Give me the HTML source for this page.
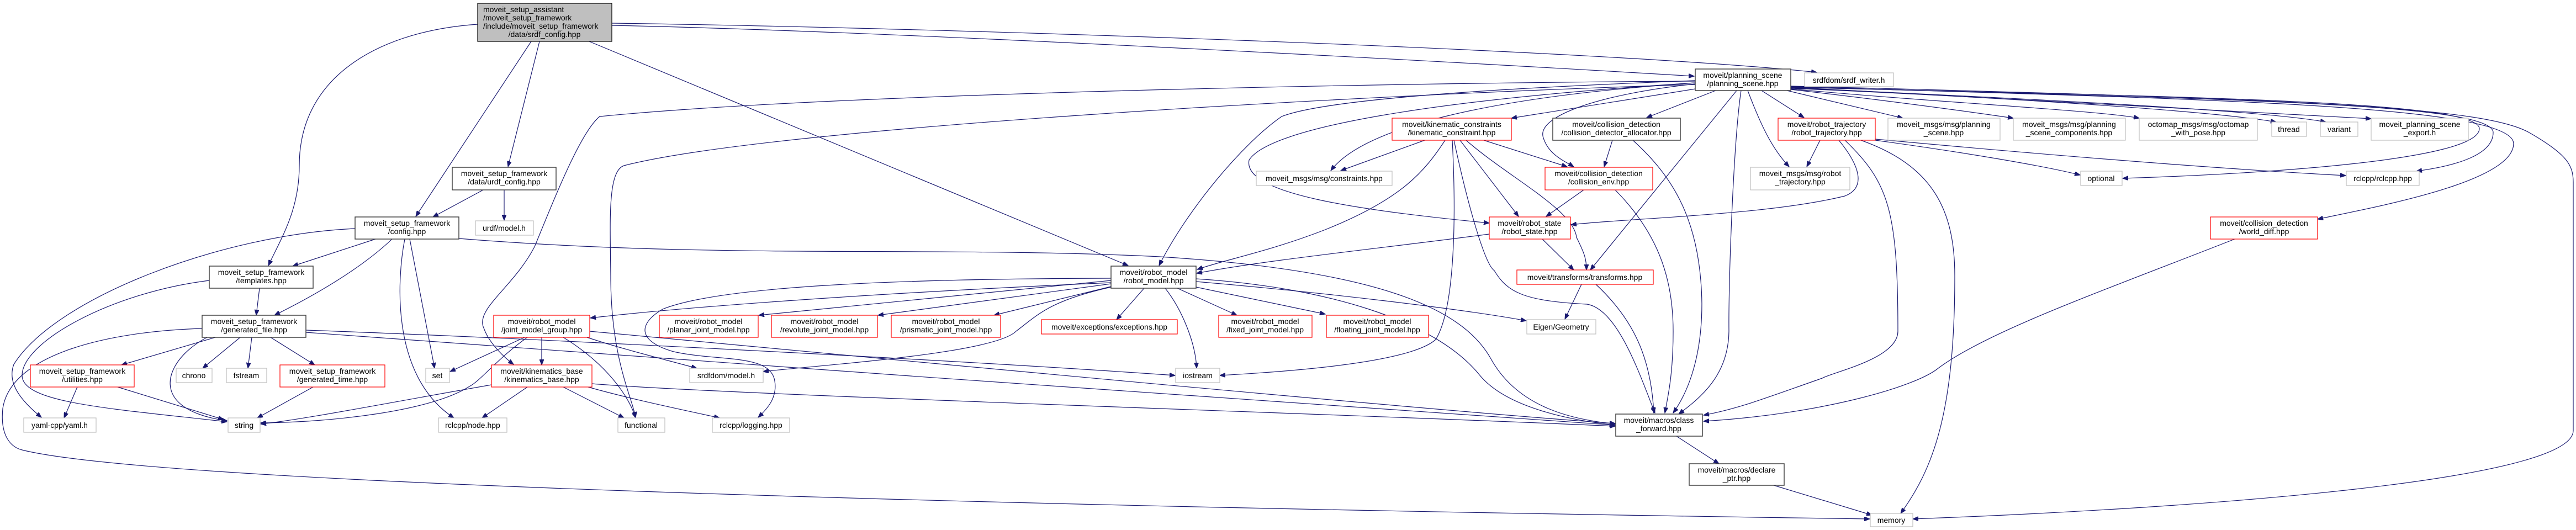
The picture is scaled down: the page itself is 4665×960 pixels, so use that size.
<!DOCTYPE html>
<html><head><meta charset="utf-8">
<style>
html,body{margin:0;padding:0;background:#fff;}
svg{display:block;}
text{font-family:"Liberation Sans",sans-serif;font-size:14px;fill:#000;}
.e{fill:none;stroke:#191970;stroke-width:1.2;marker-end:url(#a);}
.b{fill:#fff;stroke:#404040;stroke-width:1.5;}
.r{fill:#fff;stroke:#ff0000;stroke-width:1.2;}
.g{fill:#fff;stroke:#bfbfbf;stroke-width:1.2;}
</style></head><body>
<svg width="4665" height="960" viewBox="0 0 4665 960" xmlns="http://www.w3.org/2000/svg">
<defs><marker id="a" markerUnits="userSpaceOnUse" markerWidth="11" markerHeight="8" refX="10" refY="4" orient="auto"><path d="M0,0 L10,4 L0,8 z" fill="#191970" stroke="#191970"/></marker></defs>
<g>
<!-- top -->
<path class="e" d="M865,44 C700,55 542,130 542,300 C542,380 510,430 486,481"/>
<path class="e" d="M962,75 L753,392"/>
<path class="e" d="M977,75 L920,302"/>
<path class="e" d="M1067,75 L2043,481"/>
<path class="e" d="M1108,46 C1600,56 2600,110 3068,138"/>
<path class="e" d="M1108,42 C1700,50 2900,90 3290,131"/>
<!-- urdf_config -->
<path class="e" d="M875,344 L784,393"/>
<path class="e" d="M913,344 L913,399"/>
<!-- config -->
<path class="e" d="M680,433 L530,482"/>
<path class="e" d="M710,433 C650,490 560,540 497,571"/>
<path class="e" d="M742,433 L787,667"/>
<path class="e" d="M733,433 C720,500 705,680 822,757"/>
<path class="e" d="M643,414 C400,425 100,540 25,660 C10,700 50,735 75,756"/>
<path class="e" d="M831,432 C1300,470 1700,445 2100,465 C2500,490 2650,560 2700,650 C2750,740 2850,760 2925,768"/>
<!-- templates -->
<path class="e" d="M470,522 L464,571"/>
<path class="e" d="M379,508 C200,530 40,620 40,680 C40,730 200,740 411,764"/>
<!-- generated_file -->
<path class="e" d="M390,611 L220,661"/>
<path class="e" d="M435,611 L367,667"/>
<path class="e" d="M456,611 L449,667"/>
<path class="e" d="M490,611 L570,661"/>
<path class="e" d="M375,611 C320,640 290,690 320,725 C340,748 380,758 411,762"/>
<path class="e" d="M366,595 C200,600 20,640 5,740 C0,790 20,810 40,815 C300,880 2000,920 3386,940"/>
<path class="e" d="M554,598 C900,610 1700,650 2128,680"/>
<path class="e" d="M554,602 C1100,640 2500,745 2925,770"/>
<!-- utilities / gen_time -->
<path class="e" d="M140,701 L116,757"/>
<path class="e" d="M213,701 L405,760"/>
<path class="e" d="M567,701 L466,757"/>
<!-- joint_model_group -->
<path class="e" d="M950,611 L815,673"/>
<path class="e" d="M981,611 L981,661"/>
<path class="e" d="M955,611 C900,650 870,690 850,700 C780,745 600,765 472,766"/>
<path class="e" d="M1020,611 C1100,660 1140,720 1151,757"/>
<path class="e" d="M1063,611 C1120,630 1180,645 1262,667"/>
<path class="e" d="M1068,600 C1500,640 2600,745 2925,767"/>
<!-- kinematics_base -->
<path class="e" d="M890,697 C700,730 550,760 472,768"/>
<path class="e" d="M955,701 L873,757"/>
<path class="e" d="M1020,701 L1130,757"/>
<path class="e" d="M1065,701 C1150,725 1250,745 1303,757"/>
<path class="e" d="M1072,695 C1300,715 2500,752 2925,772"/>
<!-- robot_model -->
<path class="e" d="M2012,512 C1600,530 1250,555 1069,576"/>
<path class="e" d="M2012,504 C1600,505 1300,520 1200,560 C1150,590 1160,620 1220,637 C1300,655 1395,640 1403,690 C1408,720 1390,740 1373,756"/>
<path class="e" d="M2012,508 L1374,571"/>
<path class="e" d="M2012,514 L1590,571"/>
<path class="e" d="M2012,519 L1800,571"/>
<path class="e" d="M2072,522 L2022,579"/>
<path class="e" d="M2110,522 C2140,560 2165,620 2167,667"/>
<path class="e" d="M2132,522 L2240,571"/>
<path class="e" d="M2166,520 L2400,569"/>
<path class="e" d="M2166,510 C2400,530 2650,560 2764,581"/>
<path class="e" d="M2012,520 C1900,545 1880,570 1840,600 C1800,640 1500,660 1382,673"/>
<path class="e" d="M2166,505 C2400,520 2600,580 2680,680 C2730,740 2850,762 2925,770"/>
<!-- planning_scene -->
<path class="e" d="M3070,161 L2737,214"/>
<path class="e" d="M3107,164 L2982,213"/>
<path class="e" d="M3070,152 C2900,170 2780,210 2795,250 C2805,280 2830,290 2850,302"/>
<path class="e" d="M3070,150 C2600,180 2300,230 2262,290 C2250,350 2450,380 2697,404"/>
<path class="e" d="M3070,146 C2700,160 2400,180 2321,211 C2250,260 2150,380 2099,481"/>
<path class="e" d="M3070,150 C2700,175 2470,230 2410,309"/>
<path class="e" d="M3145,164 L2880,489"/>
<path class="e" d="M3153,164 C3140,250 3130,500 3131,600 C3130,680 3080,720 3040,750"/>
<path class="e" d="M3165,164 C3190,230 3210,270 3240,302"/>
<path class="e" d="M3190,164 L3267,213"/>
<path class="e" d="M3236,164 L3446,214"/>
<path class="e" d="M3243,162 C3400,180 3550,200 3646,214"/>
<path class="e" d="M3243,161 C3500,185 3800,200 3874,214"/>
<path class="e" d="M3243,160 C3600,175 4000,200 4122,221"/>
<path class="e" d="M3243,159 C3700,180 4100,200 4212,221"/>
<path class="e" d="M3243,158 C3800,190 4200,210 4294,215"/>
<path class="e" d="M3243,158 C3900,175 4490,180 4490,233 C4490,290 4100,315 3844,323"/>
<path class="e" d="M3243,157 C4000,180 4515,185 4515,240 C4515,280 4450,300 4376,310"/>
<path class="e" d="M3243,157 C4000,180 4550,190 4552,260 C4552,330 4300,375 4197,397"/>
<path class="e" d="M3243,156 C4200,180 4500,195 4580,240 C4650,280 4660,300 4660,330 L4660,780 C4660,870 4000,920 3464,940"/>
<path class="e" d="M3070,153 C2500,170 1400,230 1130,300 C1100,310 1105,400 1106,500 C1106,650 1145,720 1151,756"/>
<path class="e" d="M3070,147 C2500,150 1500,170 1086,211 C1050,240 1000,370 968,447 C930,520 860,560 876,594 C885,620 910,645 930,660"/>
<!-- kinematic_constraint -->
<path class="e" d="M2580,254 L2428,309"/>
<path class="e" d="M2687,254 L2838,302"/>
<path class="e" d="M2644,254 L2750,392"/>
<path class="e" d="M2655,254 C2730,320 2850,380 2855,430 C2870,460 2873,470 2873,489"/>
<path class="e" d="M2633,254 C2660,380 2690,480 2706,490 C2730,530 2760,545 2874,551 C2930,560 2970,680 2997,748"/>
<path class="e" d="M2617,254 C2580,310 2540,360 2400,416 C2300,455 2220,470 2168,488"/>
<path class="e" d="M2630,254 C2635,350 2640,550 2600,615 C2550,660 2300,675 2209,680"/>
<!-- allocator, env, state, transforms -->
<path class="e" d="M2920,254 L2905,302"/>
<path class="e" d="M2957,254 C3030,320 3080,400 3082,550 C3082,660 3050,720 3030,748"/>
<path class="e" d="M2868,344 L2800,392"/>
<path class="e" d="M2925,344 C3000,420 3030,500 3030,600 C3030,680 3020,720 3015,748"/>
<path class="e" d="M2793,433 L2850,489"/>
<path class="e" d="M2697,424 C2500,450 2300,470 2167,495"/>
<path class="e" d="M2864,515 L2834,578"/>
<path class="e" d="M2890,515 C2960,580 2990,650 2995,748"/>
<!-- robot_trajectory -->
<path class="e" d="M3296,254 L3272,302"/>
<path class="e" d="M3330,254 C3368,300 3380,340 3341,355 C3200,390 2950,395 2845,407"/>
<path class="e" d="M3341,254 C3420,330 3437,380 3437,600 C3437,650 3318,674 3300,685 C3200,720 3150,740 3085,752"/>
<path class="e" d="M3370,254 C3500,300 3540,380 3540,500 C3540,750 3500,850 3442,930"/>
<path class="e" d="M3396,254 C3550,275 3700,300 3767,317"/>
<path class="e" d="M3396,252 C3700,280 4000,305 4248,318"/>
<!-- world_diff, macros -->
<path class="e" d="M4047,433 C3800,530 3600,600 3510,667 C3470,700 3300,750 3085,763"/>
<path class="e" d="M3036,790 L3113,840"/>
<path class="e" d="M3212,879 L3390,933"/>
</g>
<g>
<rect x="865" y="6" width="243" height="69" fill="#bfbfbf" stroke="#000" stroke-width="1.2"/>
<text x="875" y="22">moveit_setup_assistant</text>
<text x="875" y="37">/moveit_setup_framework</text>
<text x="875" y="52">/include/moveit_setup_framework</text>
<text x="986" y="67" text-anchor="middle">/data/srdf_config.hpp</text>
</g>
<g text-anchor="middle">
<rect class="b" x="819" y="303" width="188" height="41"/><text x="913" y="319">moveit_setup_framework</text><text x="913" y="334">/data/urdf_config.hpp</text>
<rect class="g" x="861" y="400" width="105" height="26"/><text x="913" y="418">urdf/model.h</text>
<rect class="b" x="643" y="393" width="188" height="40"/><text x="737" y="409">moveit_setup_framework</text><text x="737" y="424">/config.hpp</text>
<rect class="b" x="379" y="482" width="188" height="40"/><text x="473" y="498">moveit_setup_framework</text><text x="473" y="513">/templates.hpp</text>
<rect class="b" x="366" y="571" width="188" height="40"/><text x="460" y="587">moveit_setup_framework</text><text x="460" y="602">/generated_file.hpp</text>
<rect class="r" x="55" y="661" width="188" height="40"/><text x="149" y="677">moveit_setup_framework</text><text x="149" y="692">/utilities.hpp</text>
<rect class="g" x="319" y="667" width="65" height="26"/><text x="351" y="685">chrono</text>
<rect class="g" x="410" y="667" width="73" height="26"/><text x="446" y="685">fstream</text>
<rect class="r" x="507" y="661" width="190" height="40"/><text x="602" y="677">moveit_setup_framework</text><text x="602" y="692">/generated_time.hpp</text>
<rect class="g" x="771" y="667" width="43" height="26"/><text x="792" y="685">set</text>
<rect class="r" x="890" y="661" width="182" height="40"/><text x="981" y="677">moveit/kinematics_base</text><text x="981" y="692">/kinematics_base.hpp</text>
<rect class="r" x="894" y="571" width="174" height="40"/><text x="981" y="587">moveit/robot_model</text><text x="981" y="602">/joint_model_group.hpp</text>
<rect class="g" x="43" y="757" width="131" height="26"/><text x="108" y="775">yaml-cpp/yaml.h</text>
<rect class="g" x="413" y="757" width="58" height="26"/><text x="442" y="775">string</text>
<rect class="g" x="794" y="757" width="124" height="26"/><text x="856" y="775">rclcpp/node.hpp</text>
<rect class="g" x="1119" y="757" width="85" height="26"/><text x="1161" y="775">functional</text>
<rect class="b" x="2012" y="482" width="154" height="40"/><text x="2089" y="498">moveit/robot_model</text><text x="2089" y="513">/robot_model.hpp</text>
<rect class="r" x="1194" y="571" width="179" height="40"/><text x="1283" y="587">moveit/robot_model</text><text x="1283" y="602">/planar_joint_model.hpp</text>
<rect class="r" x="1397" y="571" width="192" height="40"/><text x="1493" y="587">moveit/robot_model</text><text x="1493" y="602">/revolute_joint_model.hpp</text>
<rect class="r" x="1614" y="571" width="198" height="40"/><text x="1713" y="587">moveit/robot_model</text><text x="1713" y="602">/prismatic_joint_model.hpp</text>
<rect class="r" x="1886" y="579" width="246" height="26"/><text x="2009" y="597">moveit/exceptions/exceptions.hpp</text>
<rect class="r" x="2207" y="571" width="169" height="40"/><text x="2291" y="587">moveit/robot_model</text><text x="2291" y="602">/fixed_joint_model.hpp</text>
<rect class="g" x="1249" y="667" width="133" height="26"/><text x="1315" y="685">srdfdom/model.h</text>
<rect class="g" x="2129" y="667" width="80" height="26"/><text x="2169" y="685">iostream</text>
<rect class="g" x="1290" y="757" width="140" height="26"/><text x="1360" y="775">rclcpp/logging.hpp</text>
<rect class="g" x="2275" y="310" width="246" height="26"/><text x="2398" y="328">moveit_msgs/msg/constraints.hpp</text>
<rect class="b" x="3070" y="125" width="173" height="39"/><text x="3156" y="141">moveit/planning_scene</text><text x="3156" y="156">/planning_scene.hpp</text>
<rect class="g" x="3268" y="132" width="161" height="25"/><text x="3348" y="150">srdfdom/srdf_writer.h</text>
<rect class="r" x="2521" y="214" width="216" height="40"/><text x="2629" y="230">moveit/kinematic_constraints</text><text x="2629" y="245">/kinematic_constraint.hpp</text>
<rect class="b" x="2812" y="214" width="231" height="40"/><text x="2927" y="230">moveit/collision_detection</text><text x="2927" y="245">/collision_detector_allocator.hpp</text>
<rect class="r" x="3220" y="214" width="176" height="40"/><text x="3308" y="230">moveit/robot_trajectory</text><text x="3308" y="245">/robot_trajectory.hpp</text>
<rect class="g" x="3419" y="214" width="203" height="40"/><text x="3520" y="230">moveit_msgs/msg/planning</text><text x="3520" y="245">_scene.hpp</text>
<rect class="r" x="2798" y="303" width="195" height="41"/><text x="2895" y="319">moveit/collision_detection</text><text x="2895" y="334">/collision_env.hpp</text>
<rect class="g" x="3170" y="303" width="180" height="41"/><text x="3260" y="319">moveit_msgs/msg/robot</text><text x="3260" y="334">_trajectory.hpp</text>
<rect class="r" x="2697" y="393" width="147" height="40"/><text x="2770" y="409">moveit/robot_state</text><text x="2770" y="424">/robot_state.hpp</text>
<rect class="r" x="2747" y="489" width="247" height="26"/><text x="2870" y="507">moveit/transforms/transforms.hpp</text>
<rect class="r" x="2402" y="571" width="185" height="40"/><text x="2494" y="587">moveit/robot_model</text><text x="2494" y="602">/floating_joint_model.hpp</text>
<rect class="g" x="2765" y="579" width="125" height="26"/><text x="2827" y="597">Eigen/Geometry</text>
<rect class="b" x="2926" y="750" width="157" height="40"/><text x="3004" y="766">moveit/macros/class</text><text x="3004" y="781">_forward.hpp</text>
<rect class="b" x="3059" y="840" width="172" height="39"/><text x="3145" y="856">moveit/macros/declare</text><text x="3145" y="871">_ptr.hpp</text>
<rect class="g" x="3387" y="930" width="77" height="24"/><text x="3425" y="947">memory</text>
<rect class="g" x="3646" y="214" width="203" height="40"/><text x="3747" y="230">moveit_msgs/msg/planning</text><text x="3747" y="245">_scene_components.hpp</text>
<rect class="g" x="3874" y="214" width="214" height="40"/><text x="3981" y="230">octomap_msgs/msg/octomap</text><text x="3981" y="245">_with_pose.hpp</text>
<rect class="g" x="4114" y="221" width="63" height="26"/><text x="4145" y="239">thread</text>
<rect class="g" x="4202" y="221" width="68" height="26"/><text x="4236" y="239">variant</text>
<rect class="g" x="4294" y="214" width="176" height="40"/><text x="4382" y="230">moveit_planning_scene</text><text x="4382" y="245">_export.h</text>
<rect class="g" x="3768" y="310" width="75" height="26"/><text x="3805" y="328">optional</text>
<rect class="g" x="4249" y="310" width="132" height="26"/><text x="4315" y="328">rclcpp/rclcpp.hpp</text>
<rect class="r" x="4003" y="393" width="194" height="40"/><text x="4100" y="409">moveit/collision_detection</text><text x="4100" y="424">/world_diff.hpp</text>
</g>
</svg>
</body></html>
